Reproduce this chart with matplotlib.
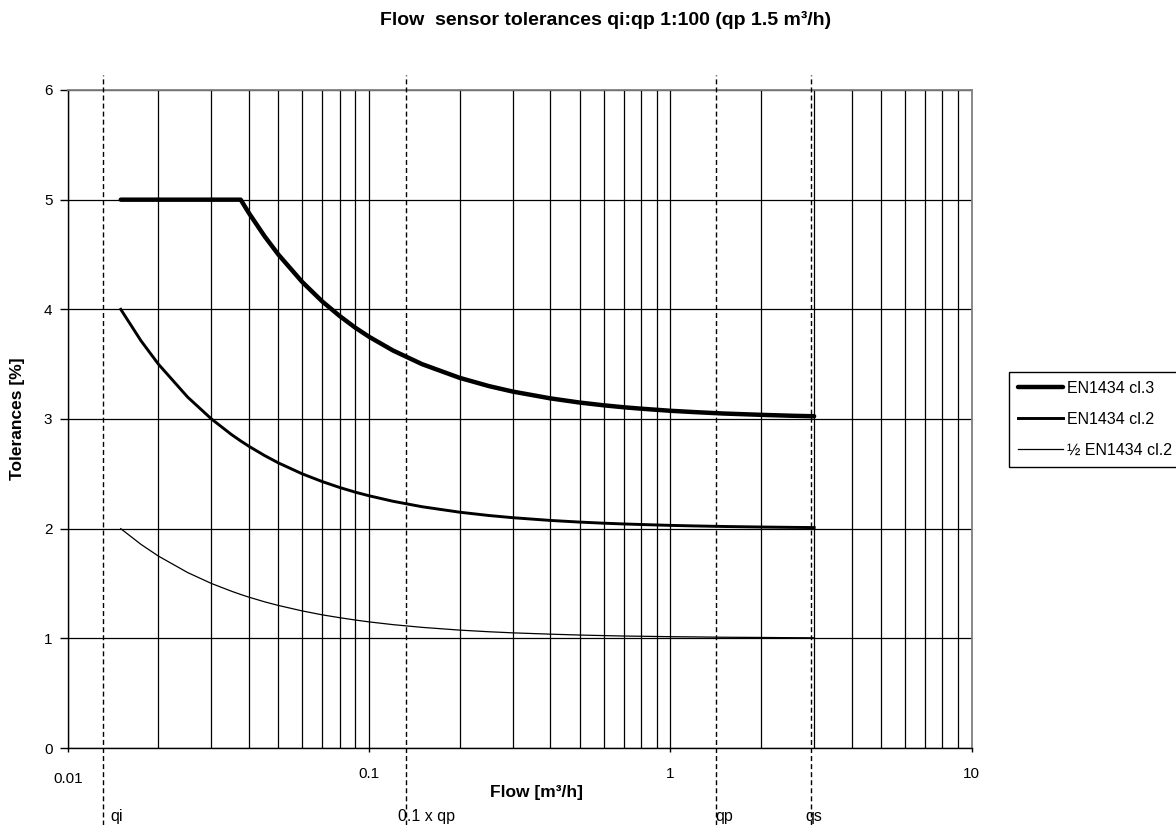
import matplotlib
matplotlib.use('Agg')
import matplotlib.pyplot as plt
from matplotlib.transforms import blended_transform_factory, offset_copy
from matplotlib.ticker import FixedLocator, NullFormatter

plt.rcParams['font.family'] = ['Liberation Sans', 'DejaVu Sans']

# data
flow = [0.015, 0.0175, 0.02, 0.025, 0.03, 0.035, 0.0375, 0.04, 0.045, 0.05,
        0.06, 0.07, 0.08, 0.09, 0.1, 0.12, 0.15, 0.2, 0.25, 0.3,
        0.4, 0.5, 0.6, 0.7, 0.8, 1.0, 1.2, 1.5, 2.0, 2.5, 3.0]
tol_cl3 = [5.0, 5.0, 5.0, 5.0, 5.0, 5.0, 5.0, 4.875, 4.667, 4.5,
           4.25, 4.071, 3.938, 3.833, 3.75, 3.625, 3.5, 3.375, 3.3, 3.25,
           3.188, 3.15, 3.125, 3.107, 3.094, 3.075, 3.063, 3.05, 3.038, 3.03, 3.025]
tol_cl2 = [4.0, 3.714, 3.5, 3.2, 3.0, 2.857, 2.8, 2.75, 2.667, 2.6,
           2.5, 2.429, 2.375, 2.333, 2.3, 2.25, 2.2, 2.15, 2.12, 2.1,
           2.075, 2.06, 2.05, 2.043, 2.038, 2.03, 2.025, 2.02, 2.015, 2.012, 2.01]
tol_half = [2.0, 1.857, 1.75, 1.6, 1.5, 1.429, 1.4, 1.375, 1.333, 1.3,
            1.25, 1.214, 1.188, 1.167, 1.15, 1.125, 1.1, 1.075, 1.06, 1.05,
            1.038, 1.03, 1.025, 1.021, 1.019, 1.015, 1.013, 1.01, 1.008, 1.006, 1.005]
series_labels = ['EN1434 cl.3', 'EN1434 cl.2', '½ EN1434 cl.2']

# vertical reference lines
marker_labels = ['qi', '0.1 x qp', 'qp', 'qs']
marker_flow = [0.0131, 0.133, 1.42, 2.92]
marker_dx = [14, 20, 8, 3]  # text offset in px

xticks = [0.01, 0.1, 1, 10]
xtick_labels = ['0.01', '0.1', '1', '10']

W, H = 1176, 825
fig = plt.figure(figsize=(W / 100, H / 100), dpi=100)
ax = fig.add_axes([67.7 / W, 1 - 748 / H, (971.7 - 67.7) / W, (748 - 90) / H])

ax.plot(flow, tol_cl3, color='black', lw=3.2, solid_capstyle='round',
        solid_joinstyle='round', label=series_labels[0], zorder=5)
ax.plot(flow, tol_cl2, color='black', lw=2.1, solid_joinstyle='round',
        label=series_labels[1], zorder=5)
ax.plot(flow, tol_half, color='black', lw=0.9, label=series_labels[2], zorder=5)

ax.set_xscale('log')
ax.set_xlim(0.01, 10)
ax.set_ylim(0, 6)
ax.set_xticks(xticks)
ax.set_xticklabels(xtick_labels)
minors = [m * 10.0 ** e for e in (-2, -1, 0) for m in range(2, 10)]
ax.xaxis.set_minor_locator(FixedLocator(minors))
ax.xaxis.set_minor_formatter(NullFormatter())
ax.set_yticks(range(7))

ax.grid(which='both', axis='x', color='black', lw=0.9)
ax.grid(which='major', axis='y', color='black', lw=0.9)
ax.set_axisbelow(True)

ax.tick_params(axis='x', which='major', length=3, width=1, pad=11, labelsize=11)
ax.tick_params(axis='x', which='minor', length=0)
ax.tick_params(axis='y', length=6, width=1, pad=5, labelsize=11)

# 0.01 sits a bit lower in the original
lab0 = ax.get_xticklabels()[0]
lab0.set_transform(offset_copy(lab0.get_transform(), fig=fig, y=-5, units='dots'))

for side in ['top', 'right']:
    ax.spines[side].set_color('#808080')
    ax.spines[side].set_linewidth(1.3)
for side in ['left', 'bottom']:
    ax.spines[side].set_color('black')
    ax.spines[side].set_linewidth(1.0)

trans = blended_transform_factory(ax.transData, fig.transFigure)
for lab, x, dx in zip(marker_labels, marker_flow, marker_dx):
    ax.plot([x, x], [0, 1 - 75 / H], transform=trans, clip_on=False,
            color='black', lw=1.0, ls=(0, (3.6, 2.2)), zorder=6)
    ax.annotate(lab, xy=(x, 1 - 817 / H), xycoords=trans, xytext=(dx, 0),
                textcoords='offset pixels', ha='center', va='center', fontsize=11.5)

fig.text(606 / W, 1 - 20 / H, 'Flow  sensor tolerances qi:qp 1:100 (qp 1.5 m³/h)',
         ha='center', va='center', fontsize=14, fontweight='bold')
fig.text(536 / W, 1 - 792 / H, 'Flow [m³/h]', ha='center', va='center',
         fontsize=12.5, fontweight='bold')
fig.text(18 / W, 1 - 419 / H, 'Tolerances [%]', ha='center', va='center',
         rotation=90, fontsize=12.5, fontweight='bold')

leg = ax.legend(loc='upper left', bbox_to_anchor=(1009 / W, 1 - 372 / H),
                bbox_transform=fig.transFigure, frameon=True, fancybox=False,
                edgecolor='black', framealpha=1, fontsize=11.5, handlelength=2.8,
                handletextpad=0.3, labelspacing=1.0, borderpad=0.55, borderaxespad=0)
leg.get_frame().set_linewidth(1.0)

fig.savefig('out.png', dpi=100)
